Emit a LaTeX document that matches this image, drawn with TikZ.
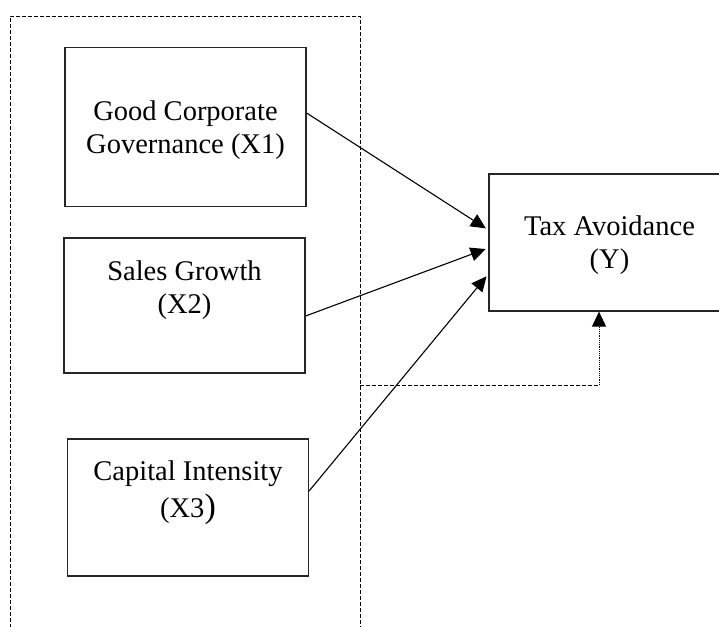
\documentclass[tikz,border=0pt]{standalone}
\usepackage{fontspec}
\setmainfont{Liberation Serif}
\usetikzlibrary{arrows.meta}
\begin{document}
\begin{tikzpicture}[x=1pt,y=-1pt,
  varbox/.style={draw=black!85,line width=1.2pt,minimum width=241pt,inner sep=0pt},
  lbl/.style={anchor=base,inner sep=0pt,font=\fontsize{28.5}{33}\selectfont},
  arr/.style={-{Triangle[length=15pt,width=14pt]},line width=1.1pt,shorten >=3pt},
  grpline/.style={line width=0.9pt,dash pattern=on 4pt off 2pt}]
\useasboundingbox (0,0) rectangle (719,626);
\clip (0,0) rectangle (719,626);
% group frame
\draw[grpline] (10,640) -- (10,16) -- (360,16) -- (360,640);
\coordinate (gs) at (360,385);
% boxes
\node[varbox,minimum height=159pt] (x1) at (185.5,127) {};
\node[varbox,minimum height=135pt] (x2) at (184.5,305.5) {};
\node[varbox,minimum height=137pt] (x3) at (188,507.5) {};
\node[varbox,minimum height=137pt] (y) at (609.5,242.5) {};
% labels
\node[lbl] (x1a) at (185.5,120) {Good Corporate};
\node[lbl] (x1b) at (185.5,153) {Governance (X1)};
\node[lbl] (x2a) at (184.5,280) {Sales Growth};
\node[lbl] (x2b) at (184.5,313) {(X2)};
\node[lbl] (x3a) at (188,480) {Capital Intensity};
\node[lbl] (x3b) at (188,517) {(X3{\fontsize{34}{33}\selectfont )}};
\node[lbl] (ya) at (609.5,235) {Tax Avoidance};
\node[lbl] (yb) at (609.5,268) {(Y)};
% arrows
\draw[arr] ([yshift=14pt]x1.east) -- ([yshift=12.5pt]y.west);
\draw[arr] ([yshift=-10.5pt]x2.east) -- ([yshift=-5.5pt]y.west);
\draw[arr] ([yshift=16.5pt]x3.east) -- ([yshift=-31.5pt]y.west);
% moderating path
\coordinate (corner) at (599,385);
\draw[grpline] (gs) -- (corner);
\draw[line width=0.9pt,dash pattern=on 1.2pt off 1pt,-{Triangle[length=15pt,width=14pt]}] (corner) -- (corner |- y.south);
\end{tikzpicture}
\end{document}
